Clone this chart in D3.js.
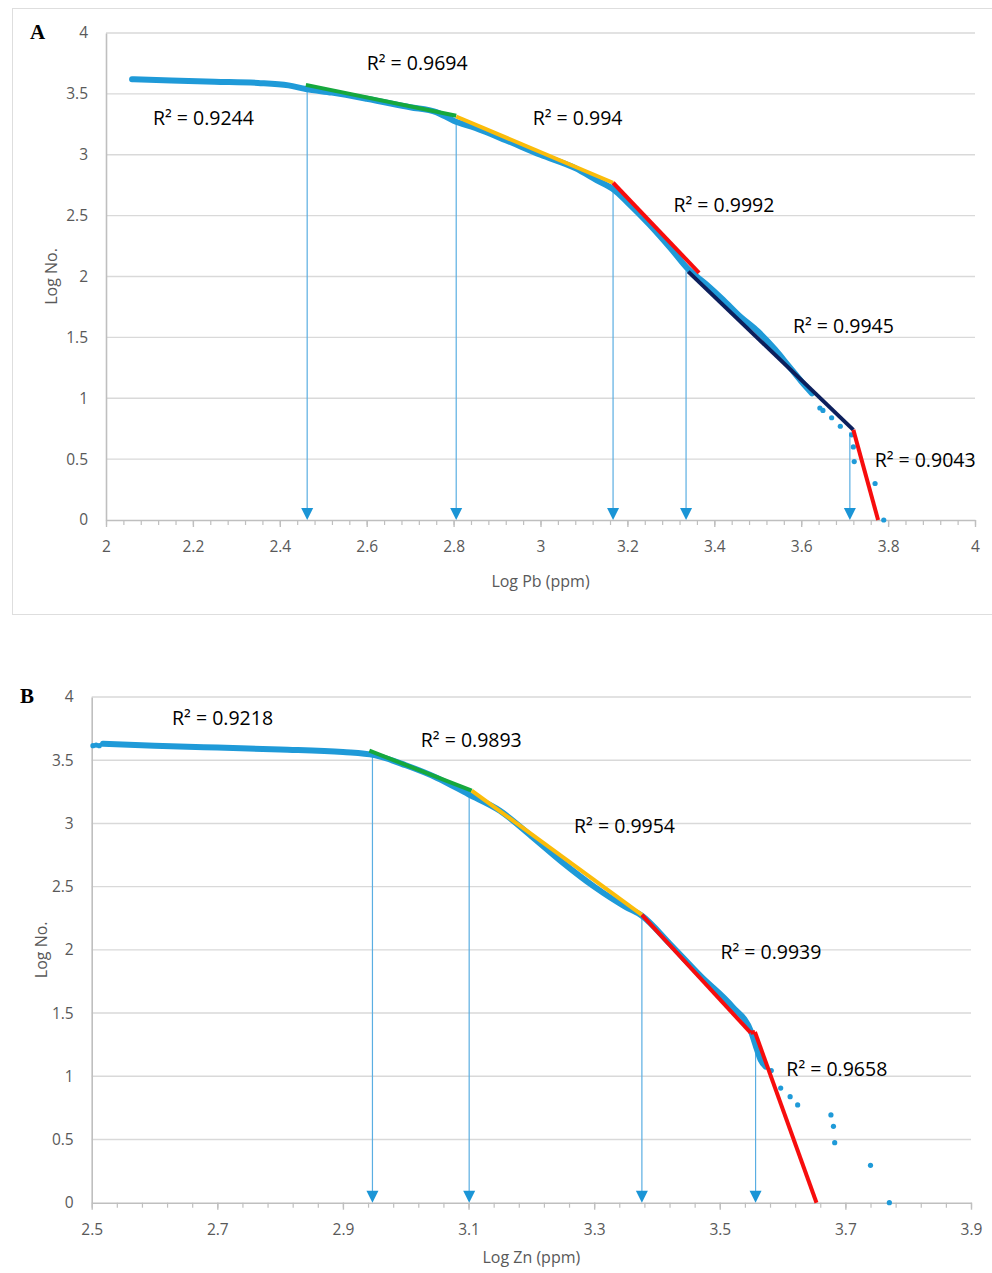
<!DOCTYPE html>
<html>
<head>
<meta charset="utf-8">
<script src="https://cdn.jsdelivr.net/npm/d3@7"></script>
<style>
  body { margin: 0; background: #fff; }
  svg { display: block; }
</style>
</head>
<body>
<svg id="chart"></svg>
<script>
// ---- Panel A : Log Pb ----
const pbXTicks = [2, 2.2, 2.4, 2.6, 2.8, 3, 3.2, 3.4, 3.6, 3.8, 4];
const pbYTicks = [0, 0.5, 1, 1.5, 2, 2.5, 3, 3.5, 4];
const pbCurveX = [2.06, 2.15, 2.25, 2.35, 2.42, 2.46, 2.52, 2.6, 2.7, 2.76, 2.8, 2.85, 2.92, 3.0, 3.08, 3.13, 3.17, 3.2, 3.25, 3.3, 3.34, 3.38, 3.42, 3.46, 3.5, 3.54, 3.57, 3.6, 3.625];
const pbCurveY = [3.62, 3.61, 3.60, 3.59, 3.57, 3.54, 3.51, 3.46, 3.39, 3.35, 3.28, 3.22, 3.12, 3.0, 2.89, 2.79, 2.71, 2.61, 2.43, 2.23, 2.06, 1.94, 1.81, 1.67, 1.55, 1.40, 1.27, 1.14, 1.04];
const pbDotsX = [3.643, 3.65, 3.67, 3.69, 3.716, 3.72, 3.722, 3.77, 3.79];
const pbDotsY = [0.92, 0.90, 0.84, 0.77, 0.70, 0.60, 0.48, 0.30, 0.0];
const pbFits = [
  [2.46, 3.574, 2.806, 3.32],
  [2.806, 3.314, 3.167, 2.77],
  [3.167, 2.77, 3.365, 2.03],
  [3.34, 2.04, 3.72, 0.74],
  [3.72, 0.74, 3.777, 0.0]
];
const pbR2 = ["0.9244", "0.9694", "0.994", "0.9992", "0.9945", "0.9043"];
const pbCuts = [2.463, 2.806, 3.167, 3.335, 3.712];
const pbCutTops = [3.55, 3.27, 2.70, 2.05, 0.72];

// ---- Panel B : Log Zn ----
const znXTicks = [2.5, 2.7, 2.9, 3.1, 3.3, 3.5, 3.7, 3.9];
const znYTicks = [0, 0.5, 1, 1.5, 2, 2.5, 3, 3.5, 4];
const znCurveX = [2.518, 2.6, 2.7, 2.8, 2.9, 2.95, 3.0, 3.05, 3.1, 3.15, 3.2, 3.25, 3.3, 3.35, 3.376, 3.42, 3.47, 3.52, 3.55, 3.558, 3.565, 3.573];
const znCurveY = [3.63, 3.615, 3.60, 3.585, 3.565, 3.54, 3.46, 3.36, 3.23, 3.10, 2.90, 2.69, 2.50, 2.34, 2.27, 2.05, 1.79, 1.55, 1.35, 1.23, 1.13, 1.076];
const znDotsX = [2.502, 2.507, 2.512, 3.582, 3.597, 3.612, 3.624, 3.677, 3.681, 3.683, 3.74, 3.77];
const znDotsY = [3.615, 3.62, 3.615, 1.045, 0.907, 0.839, 0.773, 0.694, 0.604, 0.475, 0.296, 0.0];
const znFits = [
  [2.942, 3.575, 3.105, 3.26],
  [3.105, 3.26, 3.376, 2.276],
  [3.376, 2.276, 3.549, 1.345],
  [3.549, 1.345, 3.556, 1.35],
  [3.556, 1.35, 3.654, 0.0]
];
const znR2 = ["0.9218", "0.9893", "0.9954", "0.9939", "0.9658"];
const znCuts = [2.947, 3.101, 3.376, 3.557];
const znCutTops = [3.54, 3.225, 2.25, 1.29];

const svg = d3.select("#chart").attr("width", 992).attr("height", 1273);

const gridColor = "#d9d9d9";
const axisColor = "#bfbfbf";
const textGrey = "#595959";
const dotBlue = "#1f9ad8";
const arrowBlue = "#5aaee2";
const font = "'Open Sans', 'Noto Sans', sans-serif";

// frame around panel A
svg.append("rect")
  .attr("x", 12.5).attr("y", 8.5)
  .attr("width", 990).attr("height", 606)
  .attr("fill", "none")
  .attr("stroke", "#dedede")
  .attr("stroke-width", 1);

function drawPanel(p) {
  const g = svg.append("g");

  const x = d3.scaleLinear().domain(p.xDomain).range([p.left, p.right]);
  const y = d3.scaleLinear().domain([0, 4]).range([p.bottom, p.top]);

  // gridlines
  g.append("g")
    .selectAll("line")
    .data(p.yTicks.filter((d) => d > 0))
    .join("line")
    .attr("x1", p.left).attr("x2", p.right)
    .attr("y1", (d) => y(d)).attr("y2", (d) => y(d))
    .attr("stroke", gridColor)
    .attr("stroke-width", 1.4);

  // y axis
  const yAxis = g.append("g")
    .attr("transform", `translate(${p.left},0)`)
    .call(d3.axisLeft(y).tickValues(p.yTicks).tickSize(0).tickPadding(18).tickFormat((d) => d));
  yAxis.select(".domain").attr("stroke", axisColor).attr("stroke-width", 1.6);
  yAxis.selectAll("text")
    .attr("fill", textGrey)
    .style("font-family", font)
    .style("font-size", "15.5px");

  // x axis: minor then major ticks
  const minor = d3.range(p.xDomain[0], p.xDomain[1] + 0.001, 0.04);
  g.append("g")
    .attr("transform", `translate(0,${p.bottom})`)
    .call(d3.axisBottom(x).tickValues(minor).tickSize(5).tickFormat(""))
    .call((a) => a.select(".domain").remove())
    .selectAll("line").attr("stroke", axisColor).attr("stroke-width", 1.2);

  const xAxis = g.append("g")
    .attr("transform", `translate(0,${p.bottom})`)
    .call(d3.axisBottom(x).tickValues(p.xTicks).tickSize(7).tickSizeOuter(0).tickPadding(14).tickFormat((d) => d));
  xAxis.select(".domain").attr("stroke", axisColor).attr("stroke-width", 1.6);
  xAxis.selectAll("line").attr("stroke", axisColor).attr("stroke-width", 1.4);
  xAxis.selectAll("text")
    .attr("fill", textGrey)
    .style("font-family", font)
    .style("font-size", "15.5px");

  // arrows from the break points to the x axis
  const arrows = g.append("g");
  p.cuts.forEach((c, i) => {
    const cx = x(c);
    arrows.append("line")
      .attr("x1", cx).attr("x2", cx)
      .attr("y1", y(p.cutTops[i])).attr("y2", y(0) - 10)
      .attr("stroke", arrowBlue)
      .attr("stroke-width", 1.2);
    arrows.append("path")
      .attr("d", `M${cx - 6},${y(0) - 12}L${cx + 6},${y(0) - 12}L${cx},${y(0)}Z`)
      .attr("fill", "#1b95d6");
  });

  // observed data (dense part drawn as a thick run of points)
  const curve = p.curveX.map((v, i) => [v, p.curveY[i]]);
  g.append("path")
    .datum(curve)
    .attr("fill", "none")
    .attr("stroke", dotBlue)
    .attr("stroke-width", 6)
    .attr("stroke-linecap", "round")
    .attr("stroke-linejoin", "round")
    .attr("d", d3.line().x((d) => x(d[0])).y((d) => y(d[1])).curve(d3.curveMonotoneX));

  g.append("g")
    .selectAll("circle")
    .data(p.dotsX.map((v, i) => [v, p.dotsY[i]]))
    .join("circle")
    .attr("cx", (d) => x(d[0]))
    .attr("cy", (d) => y(d[1]))
    .attr("r", 2.6)
    .attr("fill", dotBlue);

  // fitted segments
  g.append("g")
    .selectAll("line")
    .data(p.fits)
    .join("line")
    .attr("x1", (d) => x(d[0])).attr("y1", (d) => y(d[1]))
    .attr("x2", (d) => x(d[2])).attr("y2", (d) => y(d[3]))
    .attr("stroke", (d, i) => p.fitColors[i])
    .attr("stroke-width", 4)
    .attr("stroke-linecap", "butt");

  // R² labels
  g.append("g")
    .selectAll("text")
    .data(p.r2)
    .join("text")
    .attr("x", (d, i) => x(p.labelAt[i][0]))
    .attr("y", (d, i) => y(p.labelAt[i][1]))
    .attr("fill", "#000")
    .style("font-family", font)
    .style("font-size", "19.5px")
    .text((d) => `R² = ${d}`);

  // titles
  g.append("text")
    .attr("transform", `translate(${p.yTitleX},${(p.top + p.bottom) / 2}) rotate(-90)`)
    .attr("text-anchor", "middle")
    .attr("fill", textGrey)
    .style("font-family", font)
    .style("font-size", "16px")
    .text("Log No.");

  g.append("text")
    .attr("x", (p.left + p.right) / 2)
    .attr("y", p.bottom + p.xTitleGap)
    .attr("text-anchor", "middle")
    .attr("fill", textGrey)
    .style("font-family", font)
    .style("font-size", "16px")
    .text(p.xTitle);

  g.append("text")
    .attr("x", p.letterX)
    .attr("y", p.top + 6)
    .attr("fill", "#000")
    .style("font-family", "'Liberation Serif', 'DejaVu Serif', serif")
    .style("font-weight", "bold")
    .style("font-size", "21px")
    .text(p.letter);
}

drawPanel({
  letter: "A", letterX: 30,
  left: 106, right: 975, top: 33, bottom: 520,
  xDomain: [2, 4], xTicks: pbXTicks, yTicks: pbYTicks,
  curveX: pbCurveX, curveY: pbCurveY, dotsX: pbDotsX, dotsY: pbDotsY,
  fits: pbFits, fitColors: ["#16a83d", "#fbbc0a", "#f70d0d", "#0c1f5c", "#f70d0d"],
  r2: pbR2,
  labelAt: [[2.108, 3.246], [2.6, 3.70], [2.982, 3.245], [3.306, 2.533], [3.581, 1.532], [3.769, 0.436]],
  cuts: pbCuts, cutTops: pbCutTops,
  yTitleX: 57, xTitle: "Log Pb (ppm)", xTitleGap: 67
});

drawPanel({
  letter: "B", letterX: 20,
  left: 91.7, right: 971, top: 697, bottom: 1202.7,
  xDomain: [2.5, 3.9], xTicks: znXTicks, yTicks: znYTicks,
  curveX: znCurveX, curveY: znCurveY, dotsX: znDotsX, dotsY: znDotsY,
  fits: znFits, fitColors: ["#16a83d", "#fbbc0a", "#f70d0d", "#f70d0d", "#f70d0d"],
  r2: znR2,
  labelAt: [[2.628, 3.779], [3.024, 3.608], [3.268, 2.927], [3.501, 1.928], [3.606, 1.005]],
  cuts: znCuts, cutTops: znCutTops,
  yTitleX: 47, xTitle: "Log Zn (ppm)", xTitleGap: 60
});
</script>
</body>
</html>
